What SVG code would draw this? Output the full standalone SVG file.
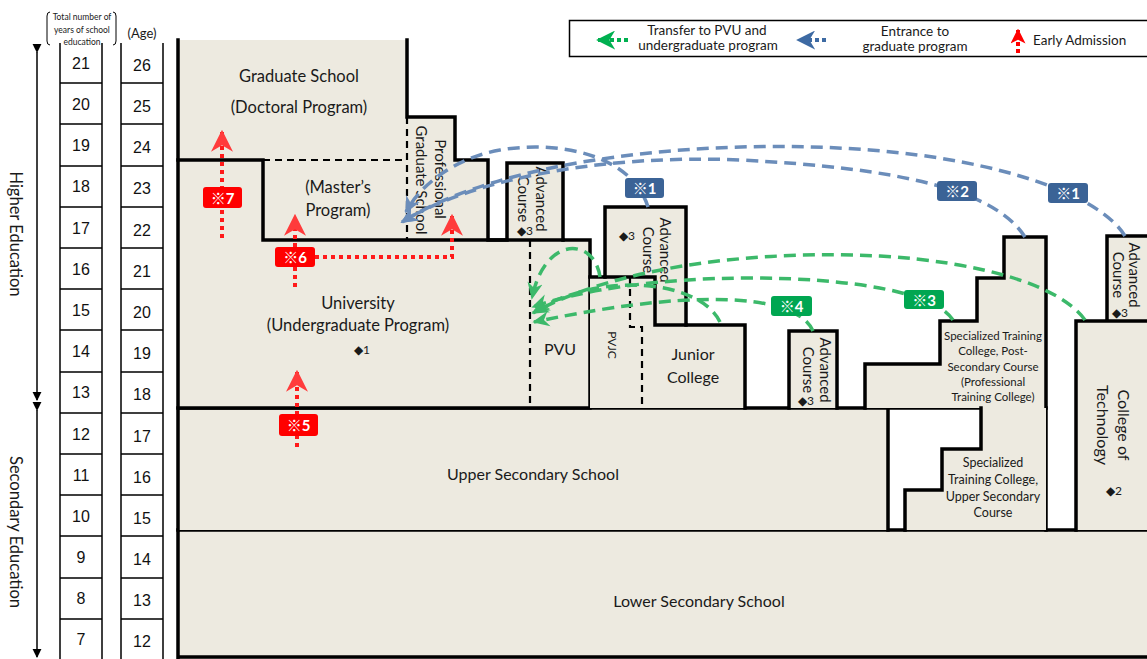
<svg xmlns="http://www.w3.org/2000/svg" width="1147" height="659" viewBox="0 0 1147 659">
<defs>
<style>
.f{fill:#EDEAE0;stroke:none}
.ol{fill:none;stroke:#000;stroke-width:3.5;stroke-linejoin:miter;stroke-linecap:square}
.dsh{fill:none;stroke:#000;stroke-width:2.2;stroke-dasharray:7 5}
.t{font-family:Lato,"Noto Sans",sans-serif;fill:#1a1a1a;text-anchor:middle;dominant-baseline:central}
.n{font-family:"Liberation Sans",Arial,sans-serif;fill:#111;font-size:16px;text-anchor:middle;dominant-baseline:central}
.cell{stroke:#000;stroke-width:1.5;fill:none}
.bl{fill:none;stroke:#6B8DBA;stroke-width:3.5;stroke-dasharray:12 7}
.gr{fill:none;stroke:#3CB96A;stroke-width:3.5;stroke-dasharray:12 7}
.rd{fill:none;stroke:#FF1A1A;stroke-width:4;stroke-dasharray:4 4}
.lb{fill:#fff;font-family:Lato,"Noto Sans CJK JP",sans-serif;font-weight:bold;font-size:15px;text-anchor:middle;dominant-baseline:central}
</style>
<marker id="ab" viewBox="0 0 20 20" refX="18" refY="10" markerWidth="17" markerHeight="17" markerUnits="userSpaceOnUse" orient="auto"><path d="M0,1 L20,10 L0,19 L6,10 Z" fill="#6B8DBA"/></marker>
<marker id="ag" viewBox="0 0 20 20" refX="18" refY="10" markerWidth="17" markerHeight="17" markerUnits="userSpaceOnUse" orient="auto"><path d="M0,1 L20,10 L0,19 L6,10 Z" fill="#3CB96A"/></marker>
<marker id="ar" viewBox="0 0 20 20" refX="18" refY="10" markerWidth="22" markerHeight="22" markerUnits="userSpaceOnUse" orient="auto"><path d="M0,0 L20,10 L0,20 L6,10 Z" fill="#FF3B3B"/></marker>
<marker id="lgg" viewBox="0 0 20 20" refX="18" refY="10" markerWidth="19" markerHeight="19" markerUnits="userSpaceOnUse" orient="auto"><path d="M0,0 L20,10 L0,20 L6,10 Z" fill="#00B050"/></marker>
<marker id="lgb" viewBox="0 0 20 20" refX="18" refY="10" markerWidth="19" markerHeight="19" markerUnits="userSpaceOnUse" orient="auto"><path d="M0,0 L20,10 L0,20 L6,10 Z" fill="#3D6AA3"/></marker>
<marker id="lgr" viewBox="0 0 20 20" refX="18" refY="10" markerWidth="15" markerHeight="15" markerUnits="userSpaceOnUse" orient="auto"><path d="M0,0 L20,10 L0,20 L5,10 Z" fill="#FF0000"/></marker>
<marker id="ka" viewBox="0 0 10 10" refX="9" refY="5" markerWidth="9" markerHeight="10" markerUnits="userSpaceOnUse" orient="auto"><path d="M0,0 L10,5 L0,10 Z" fill="#000"/></marker>
</defs>
<rect width="1147" height="659" fill="#fff"/>

<g id="axis">
<line x1="37" y1="52" x2="37" y2="400" stroke="#000" stroke-width="1.5" marker-start="url(#ka)" marker-end="url(#ka)"/>
<line x1="37" y1="410" x2="37" y2="657" stroke="#000" stroke-width="1.5" marker-start="url(#ka)" marker-end="url(#ka)"/>
<text class="t" font-size="16.5" transform="translate(16,234) rotate(90)">Higher Education</text>
<text class="t" font-size="16.5" transform="translate(16,532) rotate(90)">Secondary Education</text>
</g>

<g id="years">
<path d="M50,12 Q47,12 47,16 V41 Q47,45 50,45" fill="none" stroke="#000" stroke-width="1"/>
<path d="M113,12 Q116,12 116,16 V41 Q116,45 113,45" fill="none" stroke="#000" stroke-width="1"/>
<text class="t" font-size="8.5" x="82" y="17">Total number of</text>
<text class="t" font-size="8.5" x="82" y="30">years of school</text>
<text class="t" font-size="8.5" x="82" y="42">education</text>
<text class="t" font-size="13" x="142" y="33">(Age)</text>
<path class="cell" d="M60,43 V659 M102,43 V659 M121,43 V659 M163,43 V659"/>
<path class="cell" d="M60,83H102M60,124H102M60,166H102M60,207H102M60,248H102M60,289H102M60,330H102M60,372H102M60,413H102M60,454H102M60,495H102M60,536H102M60,578H102M60,619H102"/>
<path class="cell" d="M121,83H163M121,124H163M121,166H163M121,207H163M121,248H163M121,289H163M121,330H163M121,372H163M121,413H163M121,454H163M121,495H163M121,536H163M121,578H163M121,619H163"/>
<text class="n" x="81" y="63">21</text><text class="n" x="81" y="104">20</text><text class="n" x="81" y="145">19</text><text class="n" x="81" y="186">18</text><text class="n" x="81" y="228">17</text><text class="n" x="81" y="269">16</text><text class="n" x="81" y="310">15</text><text class="n" x="81" y="351">14</text><text class="n" x="81" y="392">13</text><text class="n" x="81" y="434">12</text><text class="n" x="81" y="475">11</text><text class="n" x="81" y="516">10</text><text class="n" x="81" y="557">9</text><text class="n" x="81" y="598">8</text><text class="n" x="81" y="639">7</text>
<text class="n" x="142" y="65">26</text><text class="n" x="142" y="106">25</text><text class="n" x="142" y="147">24</text><text class="n" x="142" y="188">23</text><text class="n" x="142" y="230">22</text><text class="n" x="142" y="271">21</text><text class="n" x="142" y="312">20</text><text class="n" x="142" y="353">19</text><text class="n" x="142" y="394">18</text><text class="n" x="142" y="436">17</text><text class="n" x="142" y="477">16</text><text class="n" x="142" y="518">15</text><text class="n" x="142" y="559">14</text><text class="n" x="142" y="600">13</text><text class="n" x="142" y="641">12</text>
</g>

<g id="lower-secondary">
<rect class="f" x="178" y="530" width="972" height="129"/>
<path class="ol" d="M178,530 H1150 M178,657 H1150 M178,530 V659"/>
<text class="t" font-size="16" x="699" y="600">Lower Secondary School</text>
</g>

<g id="upper-secondary">
<rect class="f" x="178" y="408" width="710" height="122"/>
<path class="ol" d="M178,408 H1046 M888,408 V530 M178,408 V530"/>
<text class="t" font-size="16" x="533" y="473">Upper Secondary School</text>
</g>

<g id="university">
<path class="f" d="M178,40 H407 V117 H455 V160 H488 V240 H507 V163 H563 V240 H590 V408 H178 Z"/>
<path class="ol" d="M178,40 V408 H590 V240 H563 V163 H507 V240 H488 V160 H455 V117 H407 V40"/>
<path class="ol" d="M178,160 H263 V240 H563"/>
<path class="dsh" d="M263,160 H407 M407,117 V240 M530,240 V408"/>
<text class="t" font-size="16.5" x="299" y="76">Graduate School</text>
<text class="t" font-size="16.5" x="299" y="107">(Doctoral Program)</text>
<text class="t" font-size="16.5" x="338" y="187">(Master’s</text>
<text class="t" font-size="16.5" x="338" y="210">Program)</text>
<text class="t" font-size="15" transform="translate(441,179) rotate(90)">Professional</text>
<text class="t" font-size="15" transform="translate(422,180) rotate(90)">Graduate School</text>
<text class="t" font-size="16.5" x="358" y="303">University</text>
<text class="t" font-size="16.5" x="358" y="325">(Undergraduate Program)</text>
<text class="t" font-size="12" x="362" y="349">◆1</text>
<text class="t" font-size="15" transform="translate(542,199) rotate(90)">Advanced</text>
<text class="t" font-size="15" transform="translate(524,199) rotate(90)">Course</text>
<text class="t" font-size="12" x="525" y="230">◆3</text>
<text class="t" font-size="16" x="560" y="348">PVU</text>
</g>

<g id="junior-college">
<path class="f" d="M590,277 H605 V207 H686 V325 H745 V408 H590 Z"/>
<path class="ol" d="M590,277 H605 V207 H686 V325 H745 V408"/>
<path class="ol" d="M605,277 H655 V325 H686"/>
<path class="dsh" d="M630,277 V327 H642 V408"/>
<text class="t" font-size="15" transform="translate(666,250) rotate(90)">Advanced</text>
<text class="t" font-size="15" transform="translate(649,250) rotate(90)">Course</text>
<text class="t" font-size="12" x="627" y="235">◆3</text>
<text class="t" font-size="12" transform="translate(612,345) rotate(90)">PVJC</text>
<text class="t" font-size="16" x="693" y="353">Junior</text>
<text class="t" font-size="16" x="693" y="376">College</text>
</g>

<g id="advanced-course-stc">
<rect class="f" x="789" y="331" width="48" height="77"/>
<path class="ol" d="M789,408 V331 H837 V408"/>
<text class="t" font-size="15" transform="translate(826,370) rotate(90)">Advanced</text>
<text class="t" font-size="15" transform="translate(809,370) rotate(90)">Course</text>
<text class="t" font-size="12" x="806" y="400">◆3</text>
</g>

<g id="stc-post-secondary">
<path class="f" d="M865,408 V364 H940 V321 H977 V278 H1004 V237 H1046 V408 Z"/>
<path class="ol" d="M865,408 V364 H940 V321 H977 V278 H1004 V237 H1046 V530"/>
<text class="t" font-size="11.5" x="993" y="335">Specialized Training</text>
<text class="t" font-size="11.5" x="993" y="350">College, Post-</text>
<text class="t" font-size="11.5" x="993" y="366">Secondary Course</text>
<text class="t" font-size="11.5" x="993" y="381">(Professional</text>
<text class="t" font-size="11.5" x="993" y="396">Training College)</text>
</g>

<g id="stc-upper-secondary">
<path class="f" d="M905,530 V490 H942 V449 H981 V408 H1046 V530 Z"/>
<path class="ol" d="M905,530 V490 H942 V449 H981 V408"/>
<text class="t" font-size="12.5" x="993" y="462">Specialized</text>
<text class="t" font-size="12.5" x="993" y="479">Training College,</text>
<text class="t" font-size="12.5" x="993" y="496">Upper Secondary</text>
<text class="t" font-size="12.5" x="993" y="512">Course</text>
</g>

<g id="college-of-technology">
<path class="f" d="M1076,530 V321 H1107 V236 H1150 V530 Z"/>
<path class="ol" d="M1076,530 V321 H1107 V236 H1150 M1107,321 H1150"/>
<text class="t" font-size="15" transform="translate(1135,275) rotate(90)">Advanced</text>
<text class="t" font-size="15" transform="translate(1119,275) rotate(90)">Course</text>
<text class="t" font-size="12" x="1120" y="312">◆3</text>
<text class="t" font-size="16" transform="translate(1124,425) rotate(90)">College of</text>
<text class="t" font-size="16" transform="translate(1103,425) rotate(90)">Technology</text>
<text class="t" font-size="12" x="1114" y="490">◆2</text>
</g>

<g id="connectors">
<path class="bl" d="M648,207 C632,155 560,140 500,150 C455,158 420,185 406,212" marker-end="url(#ab)"/>
<path class="bl" d="M1025,237 C995,190 900,168 740,160 C600,154 470,180 402,222" marker-end="url(#ab)"/>
<path class="bl" d="M1125,236 C1100,195 1000,160 870,150 C700,137 500,160 402,222" marker-end="url(#ab)"/>
<path class="gr" d="M600,277 C595,238 545,234 532,298" marker-end="url(#ag)"/>
<path class="gr" d="M720,322 C700,280 600,270 534,312" marker-end="url(#ag)"/>
<path class="gr" d="M813,331 C800,300 720,283 534,322" marker-end="url(#ag)"/>
<path class="gr" d="M953,320 C935,292 850,278 750,278 C660,278 580,290 533,307" marker-end="url(#ag)"/>
<path class="gr" d="M1085,320 C1060,285 980,262 880,256 C760,250 620,265 533,313" marker-end="url(#ag)"/>
<path class="rd" d="M222,238 V132" marker-end="url(#ar)"/>
<path class="rd" d="M295,287 V216" marker-end="url(#ar)"/>
<path class="rd" d="M315,257 H452 V216" marker-end="url(#ar)"/>
<path class="rd" d="M297,447 V372" marker-end="url(#ar)"/>
</g>

<g id="labels">
<rect x="625" y="178" width="39" height="20" rx="3" fill="#3B6396"/><text class="lb" x="644.5" y="188">※1</text>
<rect x="937" y="181" width="40" height="20" rx="3" fill="#3B6396"/><text class="lb" x="957" y="191">※2</text>
<rect x="1048" y="183" width="40" height="20" rx="3" fill="#3B6396"/><text class="lb" x="1068" y="193">※1</text>
<rect x="771" y="296" width="41" height="20" rx="3" fill="#00A651"/><text class="lb" x="791.5" y="306">※4</text>
<rect x="904" y="290" width="40" height="19" rx="3" fill="#00A651"/><text class="lb" x="924" y="299.5">※3</text>
<rect x="203" y="187" width="39" height="21" rx="3" fill="#FF0000"/><text class="lb" x="222.5" y="197.5">※7</text>
<rect x="275" y="247" width="40" height="20" rx="3" fill="#FF0000"/><text class="lb" x="295" y="257">※6</text>
<rect x="279" y="414" width="39" height="22" rx="3" fill="#FF0000"/><text class="lb" x="298.5" y="425">※5</text>
</g>

<g id="legend">
<rect x="569.5" y="20.5" width="590" height="36" fill="#fff" stroke="#000" stroke-width="1.5"/>
<path d="M628,40 H598" stroke="#00B050" stroke-width="4" stroke-dasharray="4 3" fill="none" marker-end="url(#lgg)"/>
<path d="M826,40 H798" stroke="#3D6AA3" stroke-width="4" stroke-dasharray="4 3" fill="none" marker-end="url(#lgb)"/>
<path d="M1018,53 V30" stroke="#FF0000" stroke-width="4" stroke-dasharray="4 3" fill="none" marker-end="url(#lgr)"/>
<text class="t" font-size="13.5" x="707" y="30">Transfer to PVU and</text>
<text class="t" font-size="13.5" x="708" y="45">undergraduate program</text>
<text class="t" font-size="13.5" x="915" y="31">Entrance to</text>
<text class="t" font-size="13.5" x="915" y="46">graduate program</text>
<text class="t" font-size="13.5" x="1033" y="40" style="text-anchor:start">Early Admission</text>
</g>
</svg>
